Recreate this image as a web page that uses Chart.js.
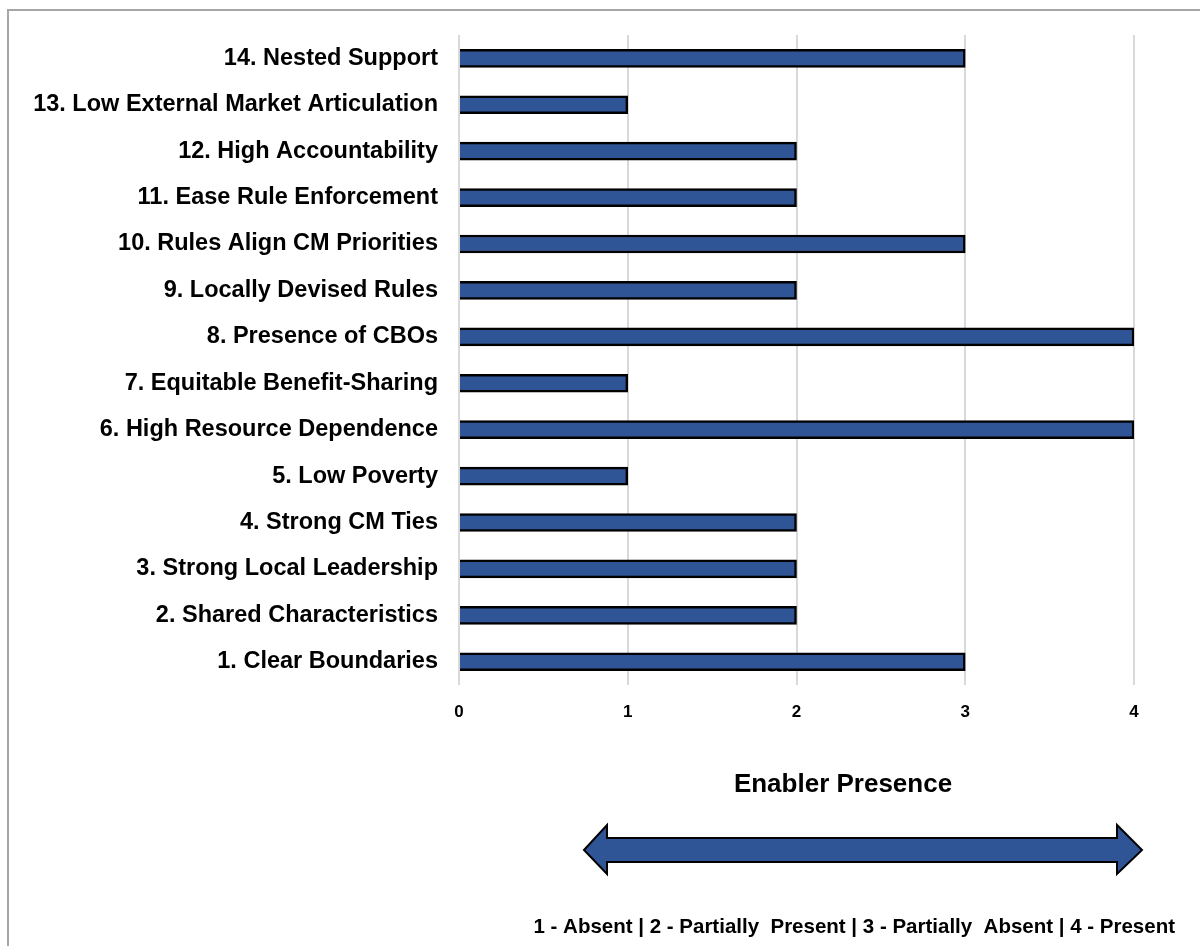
<!DOCTYPE html>
<html>
<head>
<meta charset="utf-8">
<script src="https://cdn.jsdelivr.net/npm/chart.js@4/dist/chart.umd.min.js"></script>
<style>
  html, body { margin: 0; padding: 0; background: #fff; overflow: hidden; }
  #marco {
    position: absolute; left: 7px; top: 9px; width: 1300px; height: 1100px;
    border-left: 2px solid #a6a6a6; border-top: 2px solid #a6a6a6;
  }
  #lienzo { position: absolute; left: 0; top: 0; width: 1200px; height: 946px; }
</style>
</head>
<body>
<div id="marco"></div>
<div id="lienzo"><canvas id="graficoFactores" width="1200" height="946"></canvas></div>
<script>
// Categorías (de arriba hacia abajo) y su nivel de presencia
const factores = [
    '14. Nested Support',
    '13. Low External Market Articulation',
    '12. High Accountability',
    '11. Ease Rule Enforcement',
    '10. Rules Align CM Priorities',
    '9. Locally Devised Rules',
    '8. Presence of CBOs',
    '7. Equitable Benefit-Sharing',
    '6. High Resource Dependence',
    '5. Low Poverty',
    '4. Strong CM Ties',
    '3. Strong Local Leadership',
    '2. Shared Characteristics',
    '1. Clear Boundaries'
];
const presencia = [3, 1, 2, 2, 3, 2, 4, 1, 4, 1, 2, 2, 2, 3];
const ticksEje = [0, 1, 2, 3, 4];
const tituloEje = 'Enabler Presence';
const leyendaEscala = '1 - Absent | 2 - Partially  Present | 3 - Partially  Absent | 4 - Present';

const azul = '#2f5597';
const fuente = "'Liberation Sans', Arial, sans-serif";

// Dibuja el título del eje, la flecha doble y la leyenda de la escala
const pieDeGrafico = {
    id: 'pieDeGrafico',
    afterDraw(chart) {
        const ctx = chart.ctx;
        ctx.save();
        ctx.fillStyle = '#000';
        ctx.textBaseline = 'middle';
        ctx.textAlign = 'center';
        ctx.font = 'bold 26px ' + fuente;
        ctx.fillText(tituloEje, 843, 785);

        // flecha doble
        ctx.beginPath();
        ctx.moveTo(584, 850);
        ctx.lineTo(607, 825);
        ctx.lineTo(607, 838);
        ctx.lineTo(1117, 838);
        ctx.lineTo(1117, 825);
        ctx.lineTo(1142, 850);
        ctx.lineTo(1117, 874);
        ctx.lineTo(1117, 862);
        ctx.lineTo(607, 862);
        ctx.lineTo(607, 874);
        ctx.closePath();
        ctx.fillStyle = azul;
        ctx.fill();
        ctx.lineWidth = 2;
        ctx.strokeStyle = '#000';
        ctx.lineJoin = 'miter';
        ctx.stroke();

        ctx.fillStyle = '#000';
        ctx.textAlign = 'right';
        ctx.font = 'bold 20.5px ' + fuente;
        ctx.fillText(leyendaEscala, 1175, 927);
        ctx.restore();
    }
};

const ctxFactores = document.getElementById('graficoFactores').getContext('2d');
new Chart(ctxFactores, {
    type: 'bar',
    data: {
        labels: factores,
        datasets: [{
            data: presencia,
            backgroundColor: azul,
            borderColor: '#000',
            borderWidth: 2.5,
            barThickness: 18
        }]
    },
    options: {
        indexAxis: 'y',
        responsive: false,
        animation: false,
        layout: { padding: { top: 35, right: 66, left: 0, bottom: 0 } },
        plugins: {
            legend: { display: false },
            tooltip: { enabled: false }
        },
        scales: {
            x: {
                min: 0,
                max: 4,
                afterFit: function(scale) { scale.height = 261; },
                afterBuildTicks: function(scale) {
                    scale.ticks = ticksEje.map(v => ({ value: v }));
                },
                grid: { color: '#d9d9d9', lineWidth: 2, drawTicks: false },
                border: { display: false },
                ticks: {
                    padding: 17,
                    color: '#000',
                    font: { family: fuente, size: 17, weight: 'bold' }
                }
            },
            y: {
                afterFit: function(scale) { scale.width = 459; },
                grid: { display: false, drawTicks: false },
                border: { display: false },
                ticks: {
                    padding: 21,
                    color: '#000',
                    font: { family: fuente, size: 23.5, weight: 'bold' }
                }
            }
        }
    },
    plugins: [pieDeGrafico]
});
</script>
</body>
</html>
